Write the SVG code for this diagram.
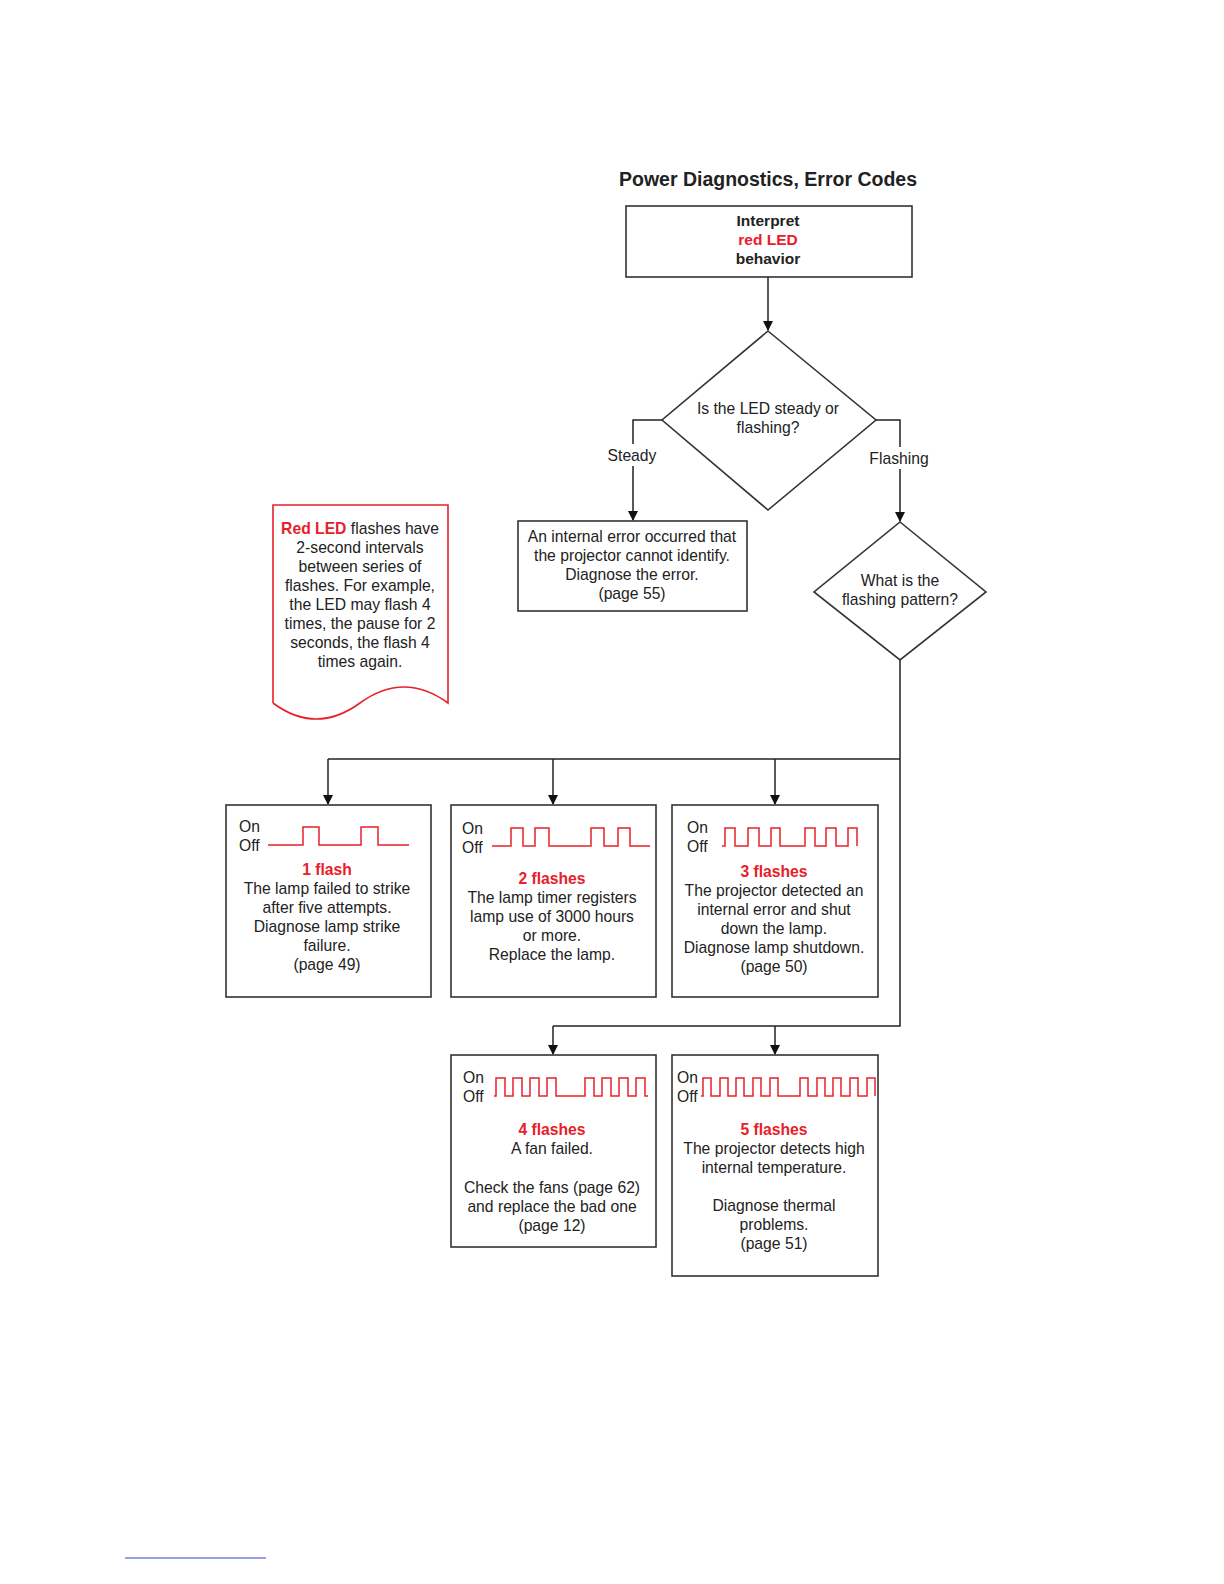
<svg xmlns="http://www.w3.org/2000/svg" width="1224" height="1584" viewBox="0 0 1224 1584">
<style>
text{font-family:"Liberation Sans",Arial,sans-serif;font-size:15.7px;fill:#222;text-anchor:middle}
.b{font-weight:bold;font-size:15.5px}
.r{fill:#e8202a;font-weight:bold}
.l{text-anchor:start}
.box{fill:#fff;stroke:#333;stroke-width:1.6}
.wire{fill:none;stroke:#222;stroke-width:1.5}
.wave{fill:none;stroke:#e8202a;stroke-width:1.5}
</style>
<defs>
<marker id="ah" markerWidth="10" markerHeight="10" refX="9" refY="5" orient="auto" markerUnits="userSpaceOnUse">
<path d="M0,0 L10,5 L0,10 z" fill="#111"/>
</marker>
</defs>
<rect width="1224" height="1584" fill="#fff"/>
<text x="768" y="186" class="b" style="font-size:19.5px">Power Diagnostics, Error Codes</text>

<g id="connectors">
<path class="wire" d="M768,277 V330" marker-end="url(#ah)"/>
<path class="wire" d="M662,420 H633 V520" marker-end="url(#ah)"/>
<path class="wire" d="M876,420 H900 V521" marker-end="url(#ah)"/>
<path class="wire" d="M900,660 V1026 H553"/>
<path class="wire" d="M900,759 H328"/>
<path class="wire" d="M328,759 V804" marker-end="url(#ah)"/>
<path class="wire" d="M553,759 V804" marker-end="url(#ah)"/>
<path class="wire" d="M775,759 V804" marker-end="url(#ah)"/>
<path class="wire" d="M553,1026 V1054" marker-end="url(#ah)"/>
<path class="wire" d="M775,1026 V1054" marker-end="url(#ah)"/>
<rect x="603" y="444" width="60" height="22" fill="#fff"/>
<text x="632" y="461">Steady</text>
<rect x="865" y="447" width="70" height="22" fill="#fff"/>
<text x="899" y="464">Flashing</text>
</g>

<g id="start">
<rect class="box" x="626" y="206" width="286" height="71"/>
<text x="768" y="226" class="b">Interpret</text>
<text x="768" y="245" class="r b">red LED</text>
<text x="768" y="264" class="b">behavior</text>
</g>

<g id="decision1">
<path class="box" d="M768,331 L876,420 L768,510 L662,420 Z"/>
<text x="768" y="414">Is the LED steady or</text>
<text x="768" y="433">flashing?</text>
</g>

<g id="steady">
<rect class="box" x="518" y="521" width="229" height="90"/>
<text x="632" y="542">An internal error occurred that</text>
<text x="632" y="561">the projector cannot identify.</text>
<text x="632" y="580">Diagnose the error.</text>
<text x="632" y="599">(page 55)</text>
</g>

<g id="decision2">
<path class="box" d="M900,522 L986,592 L900,660 L814,592 Z"/>
<text x="900" y="586">What is the</text>
<text x="900" y="605">flashing pattern?</text>
</g>

<g id="note">
<path d="M273,703 V505 H448 V703 Q404,671 360,703 T273,703" fill="#fff" stroke="#e8202a" stroke-width="1.6"/>
<text x="360" y="534"><tspan class="r">Red LED</tspan> flashes have</text>
<text x="360" y="553">2-second intervals</text>
<text x="360" y="572">between series of</text>
<text x="360" y="591">flashes. For example,</text>
<text x="360" y="610">the LED may flash 4</text>
<text x="360" y="629">times, the pause for 2</text>
<text x="360" y="648">seconds, the flash 4</text>
<text x="360" y="667">times again.</text>
</g>

<g id="flash1">
<rect class="box" x="226" y="805" width="205" height="192"/>
<text x="239" y="832" class="l">On</text>
<text x="239" y="851" class="l">Off</text>
<path class="wave" d="M268,845 H303 V827 H319 V845 H361 V827 H378 V845 H409"/>
<text x="327" y="875" class="r">1 flash</text>
<text x="327" y="894">The lamp failed to strike</text>
<text x="327" y="913">after five attempts.</text>
<text x="327" y="932">Diagnose lamp strike</text>
<text x="327" y="951">failure.</text>
<text x="327" y="970">(page 49)</text>
</g>

<g id="flash2">
<rect class="box" x="451" y="805" width="205" height="192"/>
<text x="462" y="834" class="l">On</text>
<text x="462" y="853" class="l">Off</text>
<path class="wave" d="M492,846 H511 V828 H523 V846 H535 V828 H549 V846 H591 V828 H604 V846 H618 V828 H630 V846 H650"/>
<text x="552" y="884" class="r">2 flashes</text>
<text x="552" y="903">The lamp timer registers</text>
<text x="552" y="922">lamp use of 3000 hours</text>
<text x="552" y="941">or more.</text>
<text x="552" y="960">Replace the lamp.</text>
</g>

<g id="flash3">
<rect class="box" x="672" y="805" width="206" height="192"/>
<text x="687" y="833" class="l">On</text>
<text x="687" y="852" class="l">Off</text>
<path class="wave" d="M722,846 H725 V828 H735 V846 H748 V828 H759 V846 H771 V828 H780 V846 H805 V828 H815 V846 H826 V828 H836 V846 H848 V828 H857 V846"/>
<text x="774" y="877" class="r">3 flashes</text>
<text x="774" y="896">The projector detected an</text>
<text x="774" y="915">internal error and shut</text>
<text x="774" y="934">down the lamp.</text>
<text x="774" y="953">Diagnose lamp shutdown.</text>
<text x="774" y="972">(page 50)</text>
</g>

<g id="flash4">
<rect class="box" x="451" y="1055" width="205" height="192"/>
<text x="463" y="1083" class="l">On</text>
<text x="463" y="1102" class="l">Off</text>
<path class="wave" d="M494,1096 H496 V1078 H505 V1096 H513 V1078 H522 V1096 H530 V1078 H539 V1096 H547 V1078 H556 V1096 H585 V1078 H594 V1096 H602 V1078 H611 V1096 H619 V1078 H628 V1096 H636 V1078 H645 V1096 H648"/>
<text x="552" y="1135" class="r">4 flashes</text>
<text x="552" y="1154">A fan failed.</text>
<text x="552" y="1193">Check the fans (page 62)</text>
<text x="552" y="1212">and replace the bad one</text>
<text x="552" y="1231">(page 12)</text>
</g>

<g id="flash5">
<rect class="box" x="672" y="1055" width="206" height="221"/>
<text x="677" y="1083" class="l">On</text>
<text x="677" y="1102" class="l">Off</text>
<path class="wave" d="M701,1096 H703 V1078 H711 V1096 H720 V1078 H728 V1096 H736 V1078 H744 V1096 H753 V1078 H761 V1096 H770 V1078 H778 V1096 H800 V1078 H808 V1096 H817 V1078 H825 V1096 H833 V1078 H841 V1096 H850 V1078 H858 V1096 H867 V1078 H875 V1096"/>
<text x="774" y="1135" class="r">5 flashes</text>
<text x="774" y="1154">The projector detects high</text>
<text x="774" y="1173">internal temperature.</text>
<text x="774" y="1211">Diagnose thermal</text>
<text x="774" y="1230">problems.</text>
<text x="774" y="1249">(page 51)</text>
</g>

<line x1="125" y1="1558" x2="266" y2="1558" stroke="#3344cc" stroke-width="1"/>
</svg>
